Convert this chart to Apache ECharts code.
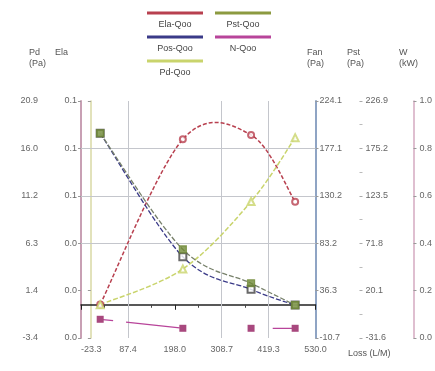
<!DOCTYPE html>
<html><head><meta charset="utf-8">
<script src="https://cdn.jsdelivr.net/npm/echarts@6/dist/echarts.min.js"></script>
<style>html,body{margin:0;padding:0;background:#fff}#c{width:435px;height:371px}</style>
</head><body><div id="c"></div>
<script>
// ---- data ----
const seriesNames = ['Ela-Qoo', 'Pos-Qoo', 'Pd-Qoo', 'Pst-Qoo', 'N-Qoo'];
const qoo    = [22, 217, 378, 482];
const elaQoo = [0.017, 0.1006, 0.1028, 0.069];
const posQoo = [192.2, 69.8, 37.5, 21.9];
const pstQoo = [191.7, 65.1, 28.1, 4.3];
const pdQoo  = [0.01, 3.66, 10.57, 17.1];
const nQoo   = [0.079, 0.041, 0.041, 0.041];

// tick values (min .. max, evenly spaced)
const xTicks   = [-23.3, 87.36, 198.02, 308.68, 419.34, 530.0];
const pdTicks  = [-3.4, 1.45, 6.3, 11.15, 16.0, 20.85];
const elaTicks = [0, 0.024, 0.048, 0.072, 0.096, 0.12];
const fanTicks = [-10.7, 36.26, 83.22, 130.18, 177.14, 224.1];
const pstTicks = [-31.6, 20.1, 71.8, 123.5, 175.2, 226.9];
const wTicks   = [0, 0.2, 0.4, 0.6, 0.8, 1.0];

// axis titles
const xTitle = 'Loss (L/M)';
const yTitles = ['Pd\n(Pa)', 'Ela', 'Fan\n(Pa)', 'Pst\n(Pa)', 'W\n(kW)'];

const colors = {
  'Ela-Qoo': '#b8404f',
  'Pos-Qoo': '#3a3a88',
  'Pd-Qoo':  '#c9d46c',
  'Pst-Qoo': '#8c9a40',
  'N-Qoo':   '#b8449a'
};

function zip(xs, ys) { return xs.map((x, i) => [x, ys[i]]); }
function rng(t) {
  return { min: t[0], max: t[t.length - 1], interval: (t[t.length - 1] - t[0]) / (t.length - 1) };
}
const fmt1 = v => Number(v).toFixed(1);
const FONT = 'Liberation Sans';
const labelStyle = { fontSize: 9, color: '#666', fontFamily: FONT };

function yAxis(ticks, opt) {
  const r = rng(ticks);
  return Object.assign({
    type: 'value', min: r.min, max: r.max, interval: r.interval,
    axisLabel: Object.assign({ formatter: fmt1, margin: 4 }, labelStyle),
    axisTick: { show: true, length: 3, lineStyle: { color: '#999' } },
    splitLine: { show: false }
  }, opt);
}

// smooth curve (Catmull-Rom through the data points, in pixel space via the axes)
function curveSeries(name, xs, ys, yAxisIndex, color, width, dash) {
  return {
    name: name, type: 'custom', yAxisIndex: yAxisIndex, z: 3, silent: true,
    data: zip(xs, ys),
    renderItem: function (params, api) {
      if (params.dataIndex !== 0) return null;
      const pts = xs.map((x, i) => api.coord([x, ys[i]]));
      let d = 'M' + pts[0][0] + ',' + pts[0][1];
      for (let i = 0; i < pts.length - 1; i++) {
        const p0 = pts[Math.max(i - 1, 0)], p1 = pts[i], p2 = pts[i + 1], p3 = pts[Math.min(i + 2, pts.length - 1)];
        const c1x = p1[0] + (p2[0] - p0[0]) / 6, c1y = p1[1] + (p2[1] - p0[1]) / 6;
        const c2x = p2[0] - (p3[0] - p1[0]) / 6, c2y = p2[1] - (p3[1] - p1[1]) / 6;
        d += ' C' + c1x + ',' + c1y + ' ' + c2x + ',' + c2y + ' ' + p2[0] + ',' + p2[1];
      }
      return { type: 'path', shape: { pathData: d }, style: { stroke: color, fill: null, lineWidth: width, lineDash: dash } };
    }
  };
}
function markerSeries(name, xs, ys, yAxisIndex, symbol, size, color) {
  return { name: name, type: 'scatter', yAxisIndex: yAxisIndex, data: zip(xs, ys), z: 6,
    symbol: symbol, symbolSize: size, itemStyle: { color: color, borderColor: color, borderWidth: 1.2 } };
}

const chart = echarts.init(document.getElementById('c'), null, { renderer: 'canvas' });
const xr = rng(xTicks);

const graphics = [];
// legend built from series names (line above text)
const legendCols = [175, 243];
const legendOrder = [['Ela-Qoo', 0, 0], ['Pst-Qoo', 1, 0], ['Pos-Qoo', 0, 1], ['N-Qoo', 1, 1], ['Pd-Qoo', 0, 2]];
legendOrder.forEach(([name, c, r]) => {
  const cx = legendCols[c], y = 13 + r * 24;
  graphics.push({ type: 'line', shape: { x1: cx - 28, y1: y, x2: cx + 28, y2: y }, style: { stroke: colors[name], lineWidth: 3 } });
  graphics.push({ type: 'text', x: cx, y: y + 12, style: { text: name, fill: '#444', font: '9px ' + FONT, textAlign: 'center', textVerticalAlign: 'middle' } });
});
// axis titles (left edges)
const titleX = [29, 55, 307, 347, 399];
yTitles.forEach((t, i) => {
  graphics.push({ type: 'text', x: titleX[i], y: 47, style: { text: t, fill: '#555', font: '9px ' + FONT, lineHeight: 11, textAlign: 'left', textVerticalAlign: 'top' } });
});
graphics.push({ type: 'text', x: 348, y: 349, style: { text: xTitle, fill: '#555', font: '9px ' + FONT, textAlign: 'left', textVerticalAlign: 'top' } });

chart.setOption({
  animation: false,
  backgroundColor: '#fff',
  grid: { left: 81, right: 116, top: 101, bottom: 33, containLabel: false },
  graphic: graphics,
  xAxis: {
    type: 'value', min: xr.min, max: xr.max, interval: xr.interval,
    axisLine: { lineStyle: { color: '#222', width: 1.5 } },
    axisTick: { length: 5, lineStyle: { color: '#222' } },
    minorTick: { show: true, splitNumber: 2, length: 3, lineStyle: { color: '#444' } },
    axisLabel: Object.assign({ formatter: fmt1, margin: 7, alignMinLabel: 'left' }, labelStyle),
    splitLine: { show: false }
  },
  yAxis: [
    yAxis(pdTicks, { position: 'left', offset: 39,
      axisLine: { show: true, lineStyle: { color: '#d8d8a4', width: 1.5 } } }),
    yAxis(elaTicks, { position: 'left', offset: 0,
      axisLine: { show: true, lineStyle: { color: '#c8a0b4', width: 2 } } }),
    yAxis(fanTicks, { position: 'right', offset: 0,
      axisLine: { show: true, lineStyle: { color: '#8fa4c4', width: 2 } } }),
    yAxis(pstTicks, { position: 'right', offset: 44,
      axisLine: { show: false },
      axisTick: { show: true, length: 3, lineStyle: { color: '#aaa' } },
      minorTick: { show: true, splitNumber: 2, length: 3, lineStyle: { color: '#bbb' } },
      axisLabel: Object.assign({ formatter: fmt1, margin: 6 }, labelStyle) }),
    yAxis(wTicks, { position: 'right', offset: 98,
      axisLine: { show: true, lineStyle: { color: '#d4aac0', width: 1.5 } },
      axisLabel: Object.assign({ formatter: fmt1, margin: 6 }, labelStyle) })
  ],
  series: [
    curveSeries('Ela-Qoo', qoo, elaQoo, 1, colors['Ela-Qoo'], 1.5, [4, 2]),
    curveSeries('Pos-Qoo', qoo, posQoo, 2, colors['Pos-Qoo'], 1.3, [5, 2]),
    curveSeries('Pd-Qoo', qoo, pdQoo, 0, colors['Pd-Qoo'], 1.5, [5, 2]),
    curveSeries('Pst-Qoo', qoo, pstQoo, 3, '#77806a', 1.3, [5, 2]),
    markerSeries('Ela-Qoo', qoo, elaQoo, 1, 'emptyCircle', 6, colors['Ela-Qoo']),
    markerSeries('Pos-Qoo', qoo, posQoo, 2, 'emptyRect', 7, '#444'),
    markerSeries('Pd-Qoo', qoo, pdQoo, 0, 'emptyTriangle', 7, colors['Pd-Qoo']),
    markerSeries('Pst-Qoo', qoo, pstQoo, 3, 'rect', 7, '#6f8a36'),
    { name: 'N-Qoo', type: 'line', yAxisIndex: 4, data: zip(qoo, nQoo),
      symbol: 'rect', symbolSize: 7, z: 4,
      lineStyle: { color: colors['N-Qoo'], width: 1.3, type: [13, 13, 54, 93, 40, 10] }, itemStyle: { color: '#a8487e' },
      markLine: {
        silent: true, symbol: 'none', label: { show: false }, z: 1,
        lineStyle: { color: '#c4c6cc', width: 1, type: 'solid' },
        data: [
          { xAxis: xTicks[1] }, { xAxis: xTicks[3] }, { xAxis: xTicks[4] },
          { yAxis: wTicks[2] }, { yAxis: wTicks[3] }, { yAxis: wTicks[4] }
        ]
      } }
  ]
});
</script>
</body></html>
